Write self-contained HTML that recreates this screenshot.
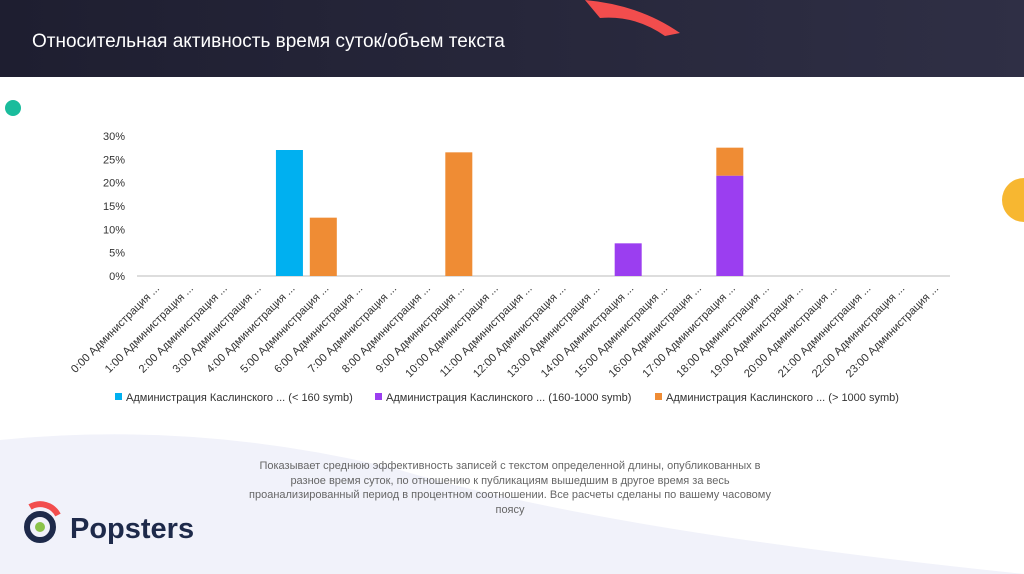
<!DOCTYPE html>
<html><head><meta charset="utf-8"><style>
body{margin:0;width:1024px;height:574px;overflow:hidden;background:#fff;font-family:"Liberation Sans",sans-serif;position:relative}
#hdr{position:absolute;left:0;top:0;width:1024px;height:77px;background:linear-gradient(90deg,#1e1e30,#2f2f45)}
#title{position:absolute;left:32px;top:31px;color:#fff;font-size:19px;font-family:"Liberation Sans",sans-serif}
#desc{position:absolute;left:245px;top:459px;width:530px;text-align:center;color:#666;font-size:11px;line-height:14.5px}
</style></head><body>
<div id="hdr"></div>
<svg style="position:absolute;left:0;top:0" width="1024" height="574">
<path d="M0 440 Q200 420 400 470 Q600 530 1024 574 L0 574 Z" fill="#f1f2fa"/>
<path d="M585 0 Q640 5 680 33 L665 36 Q635 15 600 18 Z" fill="#f24d4d"/>
<circle cx="13" cy="108" r="8" fill="#1abc9c"/>
<circle cx="1024" cy="200" r="22" fill="#f7b731"/>
<g>
<circle cx="40" cy="527" r="13" fill="none" stroke="#1e2a4a" stroke-width="6"/>
<path d="M30 507 A20 20 0 0 1 58 515" stroke="#f24d4d" stroke-width="6" fill="none"/>
<circle cx="40" cy="527" r="5" fill="#8bc34a"/>
<text x="70" y="538" font-size="29" font-weight="bold" fill="#1e2a4a" font-family="Liberation Sans,sans-serif">Popsters</text>
</g>
<g id="chart"></g>
</svg>
<div id="title">Относительная активность время суток/объем текста</div>
<div id="desc">Показывает среднюю эффективность записей с текстом определенной длины, опубликованных в разное время суток, по отношению к публикациям вышедшим в другое время за весь проанализированный период в процентном соотношении. Все расчеты сделаны по вашему часовому поясу</div>
<script>
const hours=["0:00","1:00","2:00","3:00","4:00","5:00","6:00","7:00","8:00","9:00","10:00","11:00","12:00","13:00","14:00","15:00","16:00","17:00","18:00","19:00","20:00","21:00","22:00","23:00"];
const short=[0,0,0,0,27,0,0,0,0,0,0,0,0,0,0,0,0,0,0,0,0,0,0,0];
const mid=[0,0,0,0,0,0,0,0,0,0,0,0,0,0,7,0,0,21.5,0,0,0,0,0,0];
const long=[0,0,0,0,0,12.5,0,0,0,26.5,0,0,0,0,0,0,0,6,0,0,0,0,0,0];
const ticks=[0,5,10,15,20,25,30];
const seriesNames=["Администрация Каслинского ... (< 160 symb)","Администрация Каслинского ... (160-1000 symb)","Администрация Каслинского ... (> 1000 symb)"];
const colors=["#00b0f0","#9b3ef0","#ef8c34"];
const NS="http://www.w3.org/2000/svg",g=document.getElementById('chart');
const X0=137,X1=950,Y0=276,Y1=136;
const bw=(X1-X0)/hours.length;
const y=v=>Y0-(v/30)*(Y0-Y1);
const xc=i=>X0+(i+0.5)*bw;
function mk(t,a,p){const e=document.createElementNS(NS,t);for(const k in a)e.setAttribute(k,a[k]);(p||g).appendChild(e);return e;}
ticks.forEach(t=>{const e=mk('text',{x:X0-12,y:y(t)+4,'text-anchor':'end','font-size':11,fill:'#333'});e.textContent=t+'%';

});
const ax=mk('line',{x1:X0,x2:X1,y1:Y0,y2:Y0,stroke:'#bbb'});


hours.forEach((h,i)=>{
 const t=mk('text',{x:xc(i)+6,y:Y0+13,'text-anchor':'end','font-size':11.2,fill:'#333',transform:`rotate(-45 ${xc(i)+6} ${Y0+13})`});
 t.textContent=h+' Администрация ...';
 
 
 let base=0;
 [short,mid,long].forEach((s,k)=>{const v=s[i];if(v>0){
  const r=mk('rect',{x:xc(i)-13.5,width:27,y:y(base+v),height:y(base)-y(base+v),fill:colors[k]});
  
  
  base+=v;}});
});
const lx=[115,375,655];
seriesNames.forEach((n,k)=>{
 const r=mk('rect',{x:lx[k],y:393,width:7,height:7,fill:colors[k]});
 
 
 const t=mk('text',{x:lx[k]+11,y:401,'font-size':11,fill:'#333'});t.textContent=n;
 
 
});
</script>
</body></html>
